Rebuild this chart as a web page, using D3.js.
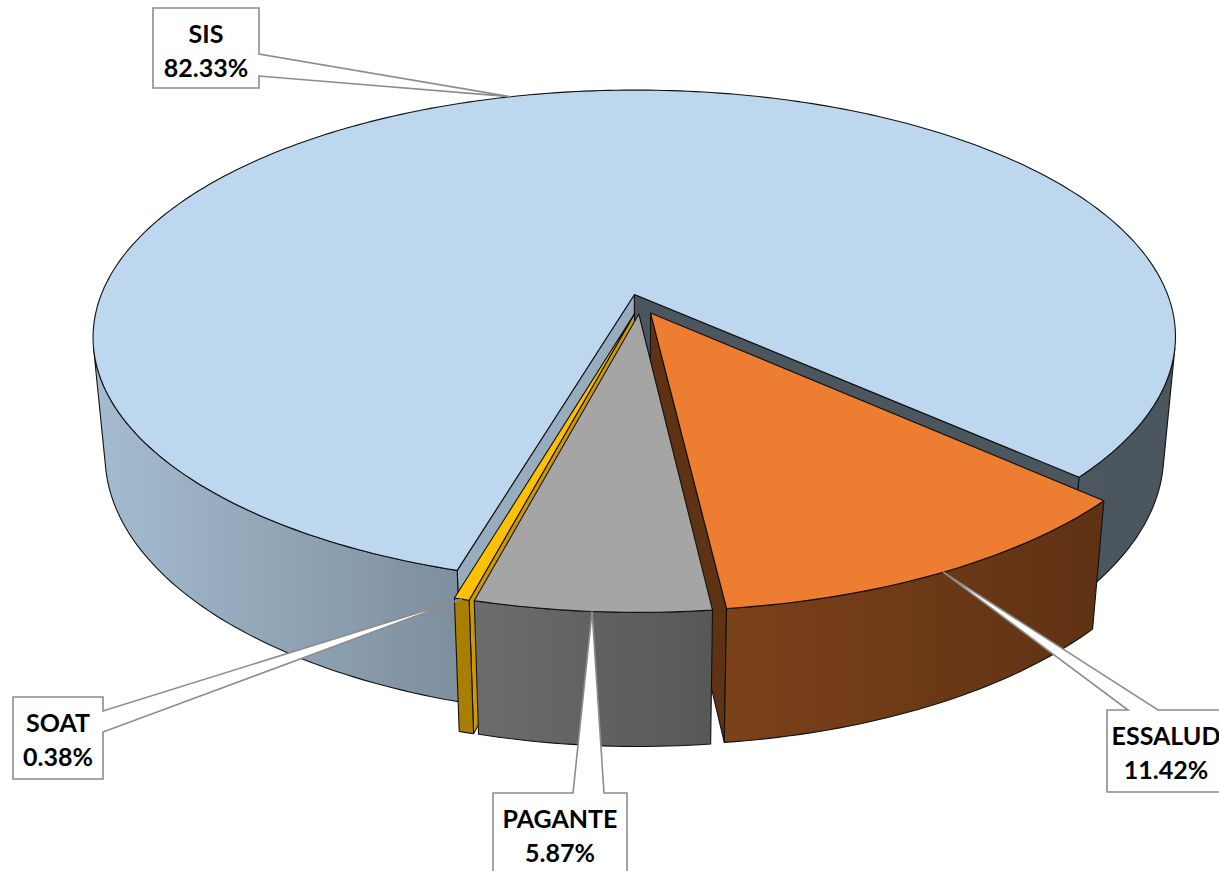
<!DOCTYPE html>
<html>
<head>
<meta charset="utf-8">
<script src="https://cdn.jsdelivr.net/npm/d3@7"></script>
<style>
  body { margin: 0; background: #fff; }
</style>
</head>
<body>
<div id="chart"></div>
<script>
var categories = ["SIS", "ESSALUD", "PAGANTE", "SOAT"];
var values = [82.33, 11.42, 5.87, 0.38];
var percentLabels = ["82.33%", "11.42%", "5.87%", "0.38%"];
var colors = ["#bdd7ee", "#ed7d31", "#a5a5a5", "#ffc000"];

// callout boxes (same order as categories), wedge base given as offsets along one edge
var labelBoxes = [
  { x: 153, y: 8, w: 106, h: 80, side: "right", p0: 46, p1: 68 },
  { x: 1107, y: 710, w: 118, h: 82, side: "top", p0: 21, p1: 51 },
  { x: 493, y: 793, w: 134, h: 82, side: "top", p0: 80, p1: 111 },
  { x: 13, y: 697, w: 90, h: 82, side: "right", p0: 14, p1: 35 }
];

(function() {
  var width = 1219, height = 871;

  var svg = d3.select("#chart")
    .append("svg")
    .attr("width", width)
    .attr("height", height);

  // camera for the tilted 3d pie
  var focal = 2765,
      dist = 5.151,
      tilt = Math.asin(0.4524),
      thick = 0.25,
      explode = 0.041;
  var sinT = Math.sin(tilt), cosT = Math.cos(tilt);
  var camZ = dist * cosT;

  var xScale = d3.scaleLinear().domain([0, 1]).range([640.4, 640.4 + focal]);
  var yScale = d3.scaleLinear().domain([0, 1]).range([304, 304 + focal]);

  function project(x, y, z) {
    var zc = dist - y * sinT - z * cosT;
    return [xScale(x / zc), yScale((z * sinT - y * cosT) / zc)];
  }
  function depth(x, y, z) {
    return dist - y * sinT - z * cosT;
  }

  var pie = d3.pie()
    .sort(null)
    .value(function(d) { return d; })
    .startAngle(196 * Math.PI / 180)
    .endAngle(196 * Math.PI / 180 + Math.PI * 2);

  var arcs = pie(values);

  // horizontal shading of the walls, light on the left, dark on the right
  var minX = Infinity, maxX = -Infinity;
  d3.range(0, 360, 1).forEach(function(a) {
    var t = a * Math.PI / 180;
    var p = project(Math.sin(t), -thick / 2, -Math.cos(t));
    minX = Math.min(minX, p[0]);
    maxX = Math.max(maxX, p[0]);
  });
  var shadeStops = [[0, 0.87], [0.335, 0.66], [0.58, 0.52], [0.93, 0.40], [1, 0.40]];

  function shade(color, k) {
    var c = d3.rgb(color);
    return d3.rgb(c.r * k, c.g * k, c.b * k).formatHex();
  }

  var defs = svg.append("defs");
  colors.forEach(function(col, i) {
    var grad = defs.append("linearGradient")
      .attr("id", "wall-" + i)
      .attr("gradientUnits", "userSpaceOnUse")
      .attr("x1", minX).attr("x2", maxX)
      .attr("y1", 0).attr("y2", 0);
    shadeStops.forEach(function(s) {
      grad.append("stop")
        .attr("offset", s[0])
        .attr("stop-color", shade(col, s[1]));
    });
  });

  var line = d3.line().curve(d3.curveLinearClosed);

  var slices = arcs.map(function(d, i) {
    var mid = (d.startAngle + d.endAngle) / 2;
    var ox = explode * Math.sin(mid), oz = -explode * Math.cos(mid);
    return {
      i: i, d: d, ox: ox, oz: oz, mid: mid,
      depth: depth(ox + 0.5 * Math.sin(mid), 0, oz - 0.5 * Math.cos(mid))
    };
  });

  slices.sort(function(a, b) { return b.depth - a.depth; });

  var gPie = svg.append("g");

  slices.forEach(function(s) {
    var d = s.d, i = s.i;
    var a0 = d.startAngle, a1 = d.endAngle;
    var n = Math.max(2, Math.ceil((a1 - a0) / (Math.PI / 180)));
    var angles = d3.range(n + 1).map(function(k) { return a0 + (a1 - a0) * k / n; });

    function rim(t, y) { return project(s.ox + Math.sin(t), y, s.oz - Math.cos(t)); }
    function apex(y) { return project(s.ox, y, s.oz); }

    function facing(nx, nz, px, pz) {
      return nx * (0 - px) + nz * (camZ - pz) > 0;
    }

    var g = gPie.append("g");

    // radial cut faces
    var faces = [
      { t: a0, nx: -Math.cos(a0), nz: -Math.sin(a0), k: 0.80 },
      { t: a1, nx: Math.cos(a1), nz: Math.sin(a1), k: 0.40 }
    ];
    faces.forEach(function(f) {
      var px = s.ox + 0.5 * Math.sin(f.t), pz = s.oz - 0.5 * Math.cos(f.t);
      if (!facing(f.nx, f.nz, px, pz)) return;
      g.append("path")
        .attr("d", line([apex(0), rim(f.t, 0), rim(f.t, -thick), apex(-thick)]))
        .attr("fill", shade(colors[i], f.k))
        .attr("stroke", "#111")
        .attr("stroke-width", 1.1)
        .attr("stroke-linejoin", "round");
    });

    // outer wall, split into runs that face the camera
    var runs = [], cur = null;
    for (var k = 0; k < n; k++) {
      var tm = (angles[k] + angles[k + 1]) / 2;
      var vis = facing(Math.sin(tm), -Math.cos(tm), s.ox + Math.sin(tm), s.oz - Math.cos(tm));
      if (vis) {
        if (!cur) { cur = [angles[k]]; runs.push(cur); }
        cur.push(angles[k + 1]);
      } else {
        cur = null;
      }
    }
    runs.forEach(function(run) {
      var pts = run.map(function(t) { return rim(t, 0); })
        .concat(run.slice().reverse().map(function(t) { return rim(t, -thick); }));
      g.append("path")
        .attr("d", line(pts))
        .attr("fill", "url(#wall-" + i + ")")
        .attr("stroke", "#111")
        .attr("stroke-width", 1.1)
        .attr("stroke-linejoin", "round");
    });

    // top face
    var top = [apex(0)].concat(angles.map(function(t) { return rim(t, 0); }));
    g.append("path")
      .attr("d", line(top))
      .attr("fill", colors[i])
      .attr("stroke", "#111")
      .attr("stroke-width", 1.1)
      .attr("stroke-linejoin", "round");

    s.anchor = rim(s.mid, 0);
  });

  // callout labels
  var byIndex = {};
  slices.forEach(function(s) { byIndex[s.i] = s; });

  var gLab = svg.append("g");
  categories.forEach(function(cat, i) {
    var b = labelBoxes[i];
    var t = byIndex[i].anchor;
    var p = d3.path();
    if (b.side === "right") {
      p.moveTo(b.x, b.y);
      p.lineTo(b.x + b.w, b.y);
      p.lineTo(b.x + b.w, b.y + b.p0);
      p.lineTo(t[0], t[1]);
      p.lineTo(b.x + b.w, b.y + b.p1);
      p.lineTo(b.x + b.w, b.y + b.h);
      p.lineTo(b.x, b.y + b.h);
    } else {
      p.moveTo(b.x, b.y);
      p.lineTo(b.x + b.p0, b.y);
      p.lineTo(t[0], t[1]);
      p.lineTo(b.x + b.p1, b.y);
      p.lineTo(b.x + b.w, b.y);
      p.lineTo(b.x + b.w, b.y + b.h);
      p.lineTo(b.x, b.y + b.h);
    }
    p.closePath();
    gLab.append("path")
      .attr("d", p.toString())
      .attr("fill", "#fff")
      .attr("stroke", "#8c8c8c")
      .attr("stroke-width", 1.6)
      .attr("stroke-linejoin", "miter");

    var txt = gLab.append("text")
      .attr("x", b.x + b.w / 2)
      .attr("text-anchor", "middle")
      .attr("font-family", "Lato, 'Open Sans', sans-serif")
      .attr("font-weight", "bold")
      .attr("font-size", 25)
      .attr("fill", "#000");
    txt.append("tspan").attr("x", b.x + b.w / 2).attr("y", b.y + 35).text(cat);
    txt.append("tspan").attr("x", b.x + b.w / 2).attr("y", b.y + 69).text(percentLabels[i]);
  });
})();
</script>
</body>
</html>
